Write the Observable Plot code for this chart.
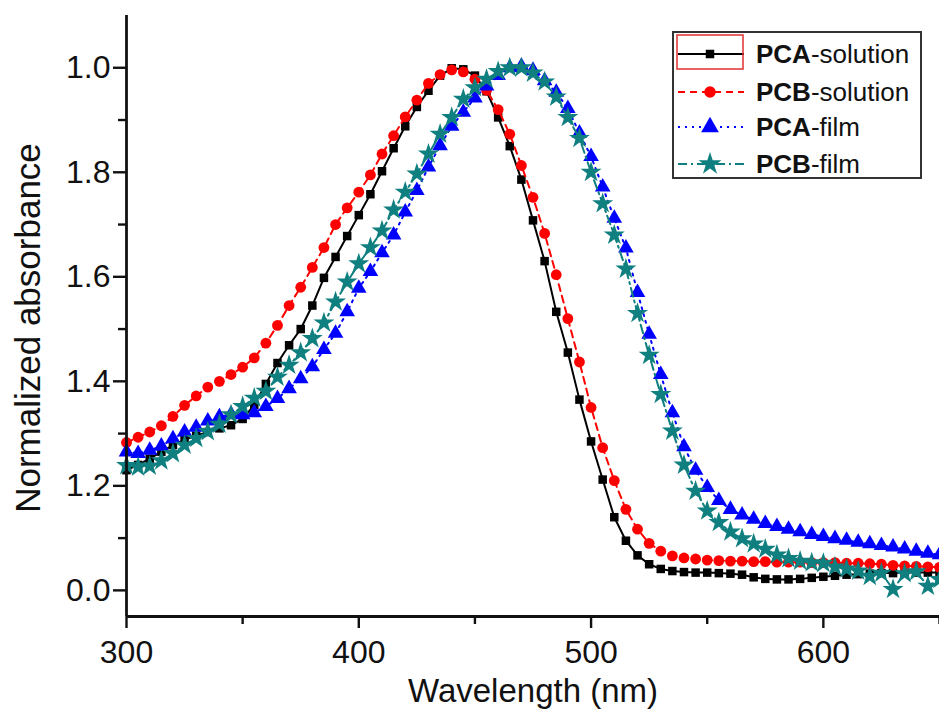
<!DOCTYPE html>
<html>
<head>
<meta charset="utf-8">
<script src="https://cdn.jsdelivr.net/npm/d3@7"></script>
<script src="https://cdn.jsdelivr.net/npm/@observablehq/plot@0.6"></script>
<style>
  html, body { margin: 0; padding: 0; background: #fff; }
  #wrap { position: relative; width: 939px; height: 714px; font-family: "Liberation Sans", Arial, Helvetica, sans-serif; }
  #legend { position: absolute; left: 672px; top: 31px; width: 250px; height: 148px; border: 2px solid #333; box-sizing: border-box; background: #fff; }
  #legend svg { position: absolute; left: 0; top: 0; }
  #ylabel { position: absolute; left: 27px; top: 328px; transform: translate(-50%, -50%) rotate(-90deg); white-space: nowrap;
            font-size: 35px; line-height: 1; color: #111; }
</style>
</head>
<body>
<div id="wrap"></div>
<script>
// ---- data ----
const wavelength = [
  300,305,310,315,320,325,330,335,340,345,
  350,355,360,365,370,375,380,385,390,395,
  400,405,410,415,420,425,430,435,440,445,
  450,455,460,465,470,475,480,485,490,495,
  500,505,510,515,520,525,530,535,540,545,
  550,555,560,565,570,575,580,585,590,595,
  600,605,610,615,620,625,630,635,640,645,
  650
];
const pcaSolution = [
  0.230,0.240,0.252,0.265,0.278,0.288,0.296,0.303,0.310,0.316,
  0.328,0.355,0.395,0.435,0.469,0.500,0.545,0.598,0.638,0.678,
  0.718,0.758,0.802,0.846,0.888,0.925,0.956,0.985,0.999,0.997,
  0.985,0.955,0.905,0.850,0.786,0.708,0.630,0.533,0.455,0.365,
  0.285,0.212,0.140,0.095,0.067,0.050,0.041,0.037,0.035,0.034,
  0.034,0.033,0.032,0.030,0.025,0.022,0.021,0.021,0.022,0.024,
  0.026,0.028,0.030,0.031,0.032,0.033,0.033,0.034,0.034,0.034,
  0.034
];
const pcbSolution = [
  0.283,0.293,0.303,0.315,0.333,0.354,0.372,0.389,0.400,0.413,
  0.427,0.445,0.473,0.507,0.545,0.580,0.618,0.656,0.700,0.732,
  0.762,0.795,0.835,0.870,0.906,0.938,0.970,0.987,0.996,0.992,
  0.978,0.957,0.920,0.873,0.813,0.752,0.683,0.604,0.520,0.437,
  0.350,0.273,0.210,0.155,0.117,0.090,0.075,0.066,0.062,0.060,
  0.058,0.057,0.056,0.056,0.055,0.055,0.054,0.054,0.054,0.053,
  0.053,0.053,0.052,0.052,0.051,0.050,0.048,0.047,0.046,0.045,
  0.044
];
const pcaFilm = [
  0.265,0.262,0.268,0.276,0.290,0.303,0.312,0.324,0.332,0.337,
  0.336,0.340,0.352,0.367,0.386,0.405,0.428,0.461,0.492,0.533,
  0.578,0.610,0.646,0.680,0.724,0.765,0.810,0.851,0.888,0.915,
  0.942,0.965,0.985,1.000,1.003,0.995,0.975,0.953,0.922,0.875,
  0.830,0.772,0.712,0.655,0.570,0.490,0.413,0.340,0.275,0.230,
  0.197,0.172,0.155,0.144,0.136,0.128,0.122,0.117,0.112,0.107,
  0.103,0.099,0.096,0.092,0.089,0.086,0.083,0.079,0.075,0.071,
  0.068
];
const pcbFilm = [
  0.239,0.236,0.238,0.248,0.262,0.278,0.291,0.304,0.318,0.336,
  0.352,0.368,0.381,0.408,0.431,0.455,0.482,0.512,0.552,0.590,
  0.625,0.656,0.688,0.728,0.762,0.797,0.835,0.873,0.905,0.940,
  0.962,0.978,0.993,1.000,1.000,0.990,0.973,0.944,0.905,0.865,
  0.800,0.740,0.680,0.615,0.530,0.450,0.375,0.305,0.240,0.190,
  0.152,0.130,0.112,0.099,0.089,0.079,0.068,0.061,0.056,0.053,
  0.052,0.045,0.041,0.037,0.027,0.033,0.002,0.032,0.036,0.008,
  0.021
];
const seriesNames = ["PCA-solution", "PCB-solution", "PCA-film", "PCB-film"];
const seriesBold = ["PCA", "PCB", "PCA", "PCB"];
const seriesRest = ["-solution", "-solution", "-film", "-film"];
const seriesColors = ["#000000", "#ff0000", "#0000ff", "#0f7f7f"];
const seriesSymbols = ["square", "circle", "triangle", "star"];
const seriesDash = ["none", "7,5", "2,5", "9,4,2,4"];
const seriesValues = [pcaSolution, pcbSolution, pcaFilm, pcbFilm];

const xMajorTicks = [300, 400, 500, 600];
const xMinorTicks = [350, 450, 550, 650];
const yMajorTicks = [0, 0.2, 0.4, 0.6, 0.8, 1.0];
const yTickLabels = ["0.0", "1.2", "1.4", "1.6", "1.8", "1.0"];
const yMinorTicks = [0.1, 0.3, 0.5, 0.7, 0.9];
const xDomain = [300, 650];
const yDomain = [-0.05, 1.1];
const xLabel = "Wavelength (nm)";
const yLabel = "Normalized absorbance";

// ---- build table ----
const rows = [];
seriesNames.forEach((name, s) => {
  wavelength.forEach((w, i) => rows.push({series: name, s, w, v: seriesValues[s][i]}));
});

const marks = [];
seriesNames.forEach((name, s) => {
  const d = rows.filter(r => r.s === s);
  marks.push(Plot.line(d, {x: "w", y: "v", stroke: seriesColors[s], strokeWidth: 2, strokeDasharray: seriesDash[s]}));
  marks.push(Plot.dot(d, {x: "w", y: "v", symbol: () => seriesSymbols[s], fill: seriesColors[s], stroke: "none",
    r: s === 0 ? 4.8 : s === 1 ? 5.4 : s === 2 ? 5.8 : 6.6}));
});

const chart = Plot.plot({
  width: 939,
  height: 714,
  marginLeft: 126,
  marginRight: 0,
  marginTop: 15,
  marginBottom: 98,
  style: {fontFamily: '"Liberation Sans", Arial, Helvetica, sans-serif', fontSize: "32px", color: "#111", background: "#fff", overflow: "visible"},
  x: {domain: xDomain, range: [126, 939]},
  y: {domain: yDomain},
  marks: [
    ...marks,
    Plot.ruleX([xDomain[0]], {y1: yDomain[0], y2: yDomain[1], stroke: "#111", strokeWidth: 2.8}),
    Plot.ruleY([yDomain[0]], {stroke: "#111", strokeWidth: 2.8}),
    Plot.axisX({ticks: xMajorTicks, tickSize: 12, tickPadding: 12, tickFormat: d => String(d), strokeWidth: 2.4, label: null, fontSize: 32}),
    Plot.axisX({ticks: xMinorTicks, tickSize: 8, tickFormat: () => "", strokeWidth: 2.4, label: null}),
    Plot.axisY({ticks: yMajorTicks, tickSize: 13, tickPadding: 3, tickFormat: d => yTickLabels[yMajorTicks.indexOf(d)], strokeWidth: 2.4, label: null, fontSize: 32}),
    Plot.axisY({ticks: yMinorTicks, tickSize: 8, tickFormat: () => "", strokeWidth: 2.4, label: null}),
    Plot.text([xLabel], {frameAnchor: "bottom", dy: 75, text: d => d, fontSize: 33, fill: "#111", lineAnchor: "middle", textAnchor: "middle"})
  ]
});

const wrap = document.getElementById("wrap");
wrap.appendChild(chart);

const yl = document.createElement("div");
yl.id = "ylabel";
yl.textContent = yLabel;
wrap.appendChild(yl);

// ---- legend ----
const legend = document.createElement("div");
legend.id = "legend";
wrap.appendChild(legend);
const lsvg = d3.select(legend).append("svg").attr("width", 250).attr("height", 148);
const rowY = [21, 59, 94, 131];
const symMap = {square: d3.symbolSquare, circle: d3.symbolCircle, triangle: d3.symbolTriangle, star: d3.symbolStar};
const symSize = [ (4.8*4.8*Math.PI), (5.8*5.8*Math.PI), (6.6*6.6*Math.PI), (7.2*7.2*Math.PI) ];
seriesNames.forEach((name, s) => {
  const y = rowY[s];
  lsvg.append("line").attr("x1", 4).attr("x2", 70).attr("y1", y).attr("y2", y)
    .attr("stroke", seriesColors[s]).attr("stroke-width", s === 0 ? 2.2 : 1.8)
    .attr("stroke-dasharray", seriesDash[s] === "none" ? null : seriesDash[s]);
  lsvg.append("path").attr("d", d3.symbol(symMap[seriesSymbols[s]], symSize[s])())
    .attr("transform", `translate(36,${y})`).attr("fill", seriesColors[s]);
  const t = lsvg.append("text").attr("x", 82).attr("y", y).attr("dy", "0.36em")
    .attr("font-size", 26).attr("fill", "#111")
    .attr("font-family", '"Liberation Sans", Arial, Helvetica, sans-serif');
  t.append("tspan").attr("font-weight", "bold").text(seriesBold[s]);
  t.append("tspan").text(seriesRest[s]);
});
lsvg.append("rect").attr("x", 3).attr("y", 2).attr("width", 66).attr("height", 34)
  .attr("fill", "none").attr("stroke", "#e03030").attr("stroke-width", 1.5);
</script>
</body>
</html>
